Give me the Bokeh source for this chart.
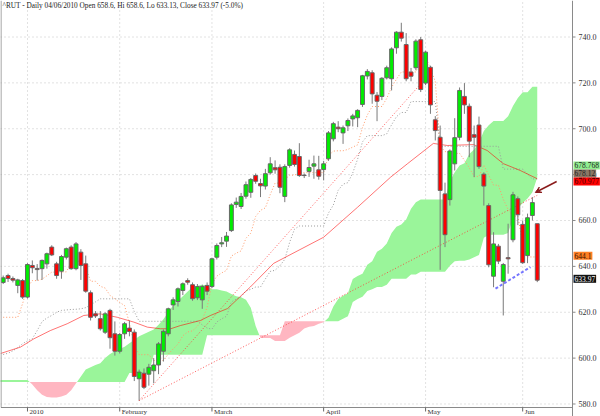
import numpy as np
from bokeh.plotting import figure
from bokeh.models import ColumnDataSource, Range1d, Label, Arrow, VeeHead
from bokeh.embed import file_html
from bokeh.resources import INLINE

# ---------------- data ----------------
title_text = "^RUT - Daily 04/06/2010 Open 658.6, Hi 658.6, Lo 633.13, Close 633.97 (-5.0%)"

month_labels = ["2010", "February", "March", "April", "May", "Jun"]
month_start_idx = [5, 24, 43, 66, 87, 107]

opens = [633.0, 636.0, 634.7, 631.7, 633.8, 626.6, 640.4, 639.1, 639.0, 641.1,
         648.4, 641.1, 637.9, 644.0, 648.4, 639.0, 646.2, 641.1, 628.5, 619.3,
         617.2, 611.3, 620.8, 610.6, 603.0, 610.6, 613.1, 611.3, 591.0, 593.4,
         593.0, 594.5, 597.0, 603.0, 610.6, 623.2, 624.7, 629.5, 633.8, 632.0,
         626.3, 625.4, 631.7, 631.2, 644.0, 649.8, 651.0, 655.6, 667.0, 666.1,
         670.6, 672.3, 679.6, 676.1, 675.0, 680.8, 683.0, 683.2, 670.5, 684.0,
         688.8, 687.9, 679.8, 681.4, 683.7, 682.1, 682.2, 686.9, 695.6, 700.7,
         698.2, 701.3, 704.3, 704.8, 710.6, 723.0, 724.4, 714.6, 714.1, 722.2,
         721.8, 735.3, 742.1, 736.7, 724.7, 726.6, 738.8, 719.9, 726.8, 703.9,
         696.3, 671.6, 669.1, 684.7, 696.3, 714.1, 709.8, 697.4, 701.6, 680.2,
         666.5, 635.7, 648.8, 633.5, 643.8, 651.6, 669.5, 658.3, 644.7, 662.2,
         658.6]
highs = [636.0, 636.8, 635.6, 634.6, 634.5, 641.4, 642.6, 641.0, 643.0, 646.0,
         649.2, 642.0, 645.0, 648.2, 649.2, 650.6, 647.5, 644.7, 629.5, 620.5,
         620.5, 620.0, 621.5, 616.0, 611.0, 615.8, 616.4, 612.5, 595.0, 595.5,
         597.5, 600.0, 607.0, 612.5, 622.0, 626.5, 630.8, 633.0, 634.8, 633.0,
         632.3, 632.0, 633.0, 643.8, 650.0, 652.8, 655.0, 667.5, 670.0, 672.0,
         677.0, 678.5, 680.5, 678.2, 682.5, 687.6, 686.2, 684.5, 684.5, 691.5,
         690.5, 693.7, 680.5, 686.5, 688.3, 688.2, 686.0, 699.0, 703.0, 703.3,
         701.4, 704.5, 706.5, 708.5, 723.5, 726.0, 725.5, 716.0, 722.5, 727.5,
         735.5, 742.5, 746.2, 741.7, 726.5, 739.0, 740.0, 734.0, 727.5, 705.5,
         701.4, 676.5, 691.0, 704.6, 718.0, 719.9, 711.0, 701.4, 705.3, 681.0,
         667.5, 654.9, 649.8, 641.5, 658.6, 672.5, 670.5, 660.0, 663.0, 670.2,
         658.6]
lows = [632.3, 633.2, 633.0, 628.3, 625.8, 626.0, 637.0, 633.8, 634.1, 639.0,
        644.5, 634.6, 634.6, 643.0, 638.5, 638.3, 634.1, 628.5, 616.4, 617.5,
        612.0, 610.5, 604.1, 601.1, 602.0, 608.4, 609.5, 590.0, 581.5, 586.5,
        588.0, 589.0, 593.0, 598.5, 609.5, 621.0, 622.5, 627.5, 632.0, 625.0,
        625.3, 621.5, 627.5, 630.5, 643.0, 648.4, 648.5, 655.0, 665.5, 665.0,
        669.5, 669.9, 676.0, 670.2, 673.5, 680.0, 680.4, 671.9, 668.0, 683.0,
        683.5, 679.0, 678.5, 679.0, 678.2, 677.8, 677.5, 686.0, 694.5, 698.5,
        693.4, 699.0, 701.0, 700.7, 709.5, 721.5, 710.9, 703.3, 712.5, 721.5,
        716.7, 732.7, 738.0, 720.7, 720.7, 725.5, 716.0, 719.0, 706.5, 694.9,
        638.5, 648.4, 666.5, 681.8, 695.0, 706.5, 687.6, 678.9, 682.5, 666.5,
        639.6, 630.9, 641.0, 618.6, 636.8, 650.5, 658.0, 641.1, 641.4, 660.0,
        633.13]
closes = [635.0, 634.7, 634.0, 634.1, 626.6, 640.8, 639.4, 638.6, 642.6, 645.5,
          645.0, 636.0, 644.3, 647.7, 639.0, 649.8, 640.4, 629.2, 617.8, 618.4,
          612.8, 619.3, 608.9, 603.0, 610.3, 615.0, 611.6, 592.0, 593.9, 587.3,
          596.0, 597.0, 606.2, 611.7, 621.5, 625.4, 630.2, 632.4, 633.1, 625.9,
          631.2, 631.2, 629.2, 643.3, 649.1, 650.3, 653.2, 666.8, 668.0, 670.5,
          675.6, 677.9, 677.1, 675.1, 680.4, 684.7, 682.1, 674.5, 683.5, 690.8,
          684.4, 679.6, 679.6, 683.1, 684.7, 679.3, 684.7, 698.2, 702.2, 700.0,
          700.4, 703.6, 705.6, 708.0, 723.1, 725.0, 715.2, 712.0, 722.0, 726.6,
          734.8, 742.1, 739.5, 721.8, 722.9, 738.2, 717.1, 733.4, 710.4, 699.2,
          673.1, 653.8, 690.3, 696.1, 716.7, 710.4, 694.6, 696.3, 683.5, 675.0,
          640.7, 649.8, 642.3, 640.8, 643.3, 671.2, 662.5, 641.6, 661.2, 667.8,
          633.97]

# tenkan-sen (orange dotted), one value per candle
tenkan = [617.8, 617.8, 617.8, 617.8, 623.8, 630.9, 633.8, 633.8, 634.4, 635.9,
          637.5, 637.5, 637.5, 637.6, 641.5, 642.2, 642.35, 639.55, 633.5, 633.5,
          631.3, 630.55, 627.35, 625.85, 624.3, 622.9, 615.3, 605.75, 601.5, 601.5,
          601.5, 598.95, 598.95, 598.95, 601.75, 604.0, 606.15, 609.75, 611.4, 611.9,
          613.9, 616.65, 622.15, 632.4, 635.75, 637.15, 638.25, 644.5, 645.75, 646.75,
          652.25, 654.5, 661.75, 664.45, 665.5, 671.3, 676.3, 676.3, 677.8, 679.75,
          679.75, 680.85, 680.85, 680.85, 680.85, 680.85, 680.85, 688.25, 690.25, 690.4,
          690.4, 691.0, 692.0, 693.0, 700.5, 706.0, 709.7, 709.7, 709.7, 713.25,
          718.1, 721.6, 724.75, 724.75, 724.75, 724.75, 729.35, 731.1, 726.35, 720.55,
          692.35, 690.1, 689.25, 689.25, 689.25, 686.25, 683.0, 679.2, 679.2, 684.15,
          679.75, 675.4, 675.4, 669.25, 664.8, 661.95, 661.95, 649.8, 644.1, 644.1,
          644.1]

# kijun-sen (grey dotted), one value per candle
kijun = [601.6, 602.1, 603.2, 604.6, 606.3, 607.5, 608.5, 612.0, 615.9, 617.5,
         618.6, 620.0, 620.8, 621.0, 621.2, 621.3, 621.5, 622.0, 623.2, 624.5,
         625.85, 625.85, 625.85, 625.85, 625.85, 625.85, 625.85, 620.3, 616.05, 616.05,
         616.05, 616.05, 616.05, 616.05, 616.05, 616.05, 616.05, 616.05, 616.05, 616.05,
         616.05, 614.5, 613.1, 612.65, 615.75, 617.15, 618.25, 624.5, 625.75, 626.75,
         629.25, 630.0, 631.0, 631.0, 634.5, 637.8, 638.3, 640.3, 643.05, 650.5,
         656.25, 657.6, 657.6, 657.6, 657.6, 657.6, 657.6, 663.25, 666.75, 673.15,
         675.85, 676.5, 680.75, 686.75, 694.25, 697.0, 697.0, 697.0, 697.0, 697.75,
         701.75, 705.25, 707.1, 707.1, 711.85, 711.85, 711.85, 711.85, 711.85, 711.85,
         692.35, 692.35, 692.35, 692.35, 692.35, 692.35, 692.35, 692.35, 692.35, 692.35,
         692.35, 692.35, 692.35, 682.4, 682.4, 682.4, 682.4, 682.4, 680.15, 678.12,
         678.12]

# senkou spans (cloud), one value per position from index -1 to 110
cloud_first_idx = -1
senkou_a = [590.5, 590.5, 590.5, 590.5, 590.5, 590.5, 590.5,
            588.5, 586.0, 584.0, 583.0, 582.8, 582.8, 583.3, 584.0, 586.0, 589.0,
            592.0, 595.0, 596.0, 597.0, 597.8, 600.0, 601.8, 603.0, 604.0, 605.0,
            606.5, 608.0, 609.5, 610.5, 611.5, 612.5, 614.5, 617.0, 620.0, 623.0,
            625.0, 627.0, 629.0, 631.0, 631.5, 632.0, 631.5, 630.0, 630.0, 629.5,
            629.0, 628.0, 627.0, 626.5, 625.5, 622.0, 614.0, 608.8, 608.8, 608.8,
            607.5, 607.5, 607.5, 608.9, 610.0, 611.1, 612.9, 613.7, 614.0, 615.0,
            615.6, 617.6, 622.5, 625.75, 627.15, 628.25, 634.5, 635.75, 636.75, 640.75,
            642.25, 646.4, 647.7, 650.0, 654.55, 657.3, 658.3, 660.4, 665.1, 668.0,
            669.2, 669.2, 669.2, 669.2, 669.2, 669.2, 677.0, 681.0, 684.0, 685.0,
            689.0, 691.0, 694.0, 699.0, 701.5, 703.35, 703.35, 703.35, 705.5, 709.9,
            713.4, 715.9, 715.9, 718.3, 718.3]
senkou_b = ([589.6] * 27 + [593.5] * 5 + [601.5] * 11 + [610.0] * 16 + [616.05] * 12 +
            [617.15, 618.25, 624.5, 625.75, 626.75, 629.25, 630.0, 631.0, 631.0, 632.0,
             634.55, 634.55, 634.55, 634.55, 636.5, 636.5, 637.6,
             637.6, 637.6, 637.6, 637.6, 637.6,
             640.25, 642.25, 642.4, 642.4, 643.0, 644.0, 645.0, 652.5, 653.75, 653.75,
             653.75, 653.75, 654.5, 661.0, 665.25, 667.6, 669.6, 672.35, 678.768])

# smooth red average line (index, value)
ma_idx = [-0.56, 3.56, 6.3, 9.7, 13.2, 16.6, 20.0, 23.5, 26.9, 29.7, 32.4, 34.5,
          36.5, 40.6, 42.7, 46.2, 50.9, 55.7, 66.0, 73.0, 79.8, 83.3, 88.6, 91.5,
          96.9, 99.7, 103.0, 106.5, 110.0]
ma_val = [602.0, 604.8, 608.4, 612.0, 615.0, 618.6, 619.3, 617.8, 615.7, 613.5,
          612.8, 612.8, 614.2, 616.4, 618.6, 621.6, 631.0, 641.3, 652.7, 665.8,
          678.9, 684.8, 693.6, 692.7, 693.1, 690.5, 684.8, 681.8, 678.2]

# trend lines (red dotted) and support line (blue dashed)
trend1_idx = [28.0, 110.0]
trend1_val = [581.5, 670.977]
trend2_idx = [28.0, 86.6]
trend2_val = [581.5, 721.0]
support_idx = [101.4, 108.6]
support_val = [630.3, 639.7]

arrow_start = (114.0, 677.0)
arrow_end = (109.6, 672.2)

# last-value tags on the right
tag_values = [678.768, 678.12, 670.977, 644.1, 633.97]
tag_texts = ["678.768", "678.12", "670.977", "644.1", "633.97"]

y_ticks = [580, 600, 620, 640, 660, 680, 700, 720, 740]

# ---------------- layout (the whole canvas is the data frame) ----------------
W, H = 600, 416
px_per_idx = 4.855        # pixels per candle
first_candle_px = 2.7     # x of first candle
px_per_point = 2.2937     # pixels per index point
y740_px = 36.5            # y of the 740 level

def px_to_idx(xp):
    return (xp - first_candle_px) / px_per_idx

def px_to_val(yp):
    return 740 - (yp - y740_px) / px_per_point

x0, x_end = px_to_idx(0), px_to_idx(W)
y_top, y_bottom = px_to_val(0), px_to_val(H)
plot_right = px_to_idx(572)       # right border of the price area
plot_bottom = px_to_val(407)      # bottom border of the price area
label_y = px_to_val(411)
tick_low = px_to_val(411)
FONT = "Liberation Serif"
BORDER = "#8a8a8a"
GRID = "#c4c4c4"

p = figure(width=W, height=H, output_backend="svg", toolbar_location=None,
           x_range=Range1d(x0, x_end), y_range=Range1d(y_bottom, y_top),
           x_axis_location=None, y_axis_location=None,
           min_border_left=0, min_border_top=0, min_border_right=0, min_border_bottom=0)
p.background_fill_color = "white"
p.border_fill_color = "white"
p.outline_line_color = None
p.xgrid.visible = False
p.ygrid.visible = False

# grids (dotted), confined to the price area
n_y = len(y_ticks)
p.segment(x0=[x0] * n_y, y0=y_ticks, x1=[plot_right] * n_y, y1=y_ticks,
          line_color=GRID, line_dash="1 3", line_width=1)
n_m = len(month_start_idx)
p.segment(x0=month_start_idx, y0=[plot_bottom] * n_m, x1=month_start_idx, y1=[y_top] * n_m,
          line_color=GRID, line_dash="1 3", line_width=1)

# cloud: split into green (A above B) and pink (B above A) polygons
t_idx = np.arange(cloud_first_idx, cloud_first_idx + len(senkou_a), dtype=float)
A = np.array(senkou_a, dtype=float)
B = np.array(senkou_b, dtype=float)
d = A - B
polys = []
cur = [(t_idx[0], A[0], B[0])]
for k in range(1, len(t_idx)):
    if (d[k - 1] >= 0) != (d[k] >= 0):
        f = d[k - 1] / (d[k - 1] - d[k])
        xc = t_idx[k - 1] + f * (t_idx[k] - t_idx[k - 1])
        yc = A[k - 1] + f * (A[k] - A[k - 1])
        cur.append((xc, yc, yc))
        polys.append((cur, d[k - 1] >= 0))
        cur = [(xc, yc, yc)]
    cur.append((t_idx[k], A[k], B[k]))
polys.append((cur, d[-1] >= 0))
for pts, green in polys:
    xs = [q[0] for q in pts] + [q[0] for q in pts][::-1]
    ys = [q[1] for q in pts] + [q[2] for q in pts][::-1]
    p.patch(xs, ys, fill_color="#9af59a" if green else "#ffb6c1", line_color=None)

# indicator lines
idx = np.arange(len(closes))
p.line(idx, kijun, line_color="#9a9a9a", line_width=1, line_dash="1 2")
p.line(idx, tenkan, line_color="#ff9a6a", line_width=1, line_dash="1 2")
p.line(ma_idx, ma_val, line_color="#ff0000", line_alpha=0.55, line_width=1)
p.line(trend1_idx, trend1_val, line_color="#ff3333", line_alpha=0.8, line_width=1, line_dash="1 2")
p.line(trend2_idx, trend2_val, line_color="#ff3333", line_alpha=0.8, line_width=1, line_dash="1 2")

# candles
o = np.array(opens); c = np.array(closes)
up = c >= o
src = ColumnDataSource(dict(
    x=idx, top=np.maximum(o, c), bottom=np.minimum(o, c),
    high=np.array(highs), low=np.array(lows),
    color=np.where(up, "#00ee00", "#ff0000")))
p.segment("x", "high", "x", "low", source=src, line_color="#7a7a7a", line_width=1)
p.vbar(x="x", top="top", bottom="bottom", width=0.8, source=src,
       fill_color="color", line_color="#666666", line_width=1)

# support line
p.line(support_idx, support_val, line_color="#7777ff", line_width=2, line_dash="3 2")

# arrow
p.add_layout(Arrow(end=VeeHead(size=6, fill_color="#8b1c1c", line_color="#8b1c1c"),
                   x_start=arrow_start[0], y_start=arrow_start[1],
                   x_end=arrow_end[0], y_end=arrow_end[1],
                   line_color="#8b1c1c", line_width=1.5))

# borders of the price area
left_edge = x0 + 0.5 / px_per_idx
p.segment(x0=[left_edge, left_edge, plot_right], y0=[plot_bottom, plot_bottom, y_bottom],
          x1=[left_edge, plot_right, plot_right], y1=[y_top, plot_bottom, y_top],
          line_color=BORDER, line_width=1)

# x axis: tick marks at month starts, labels just right of them
p.segment(x0=month_start_idx, y0=[plot_bottom] * n_m, x1=month_start_idx, y1=[tick_low] * n_m,
          line_color="#666666", line_width=1)
for m, t in zip(month_start_idx, month_labels):
    p.add_layout(Label(x=m, y=label_y, x_offset=2, text=t, text_font=FONT,
                       text_font_size="7px", text_color="#333333",
                       text_align="left", text_baseline="middle"))

# right price scale: tick marks and labels
p.segment(x0=[plot_right] * n_y, y0=y_ticks,
          x1=[plot_right + 3 / px_per_idx] * n_y, y1=y_ticks,
          line_color=BORDER, line_width=1)
for v in y_ticks:
    p.add_layout(Label(x=plot_right, y=v, x_offset=6, text=f"{v:.1f}", text_font=FONT,
                       text_font_size="8px", text_color="#333333", text_baseline="middle"))

# title
p.add_layout(Label(x=x0, y=px_to_val(5), x_offset=2, text=title_text, text_font=FONT,
                   text_font_size="7.3px", text_color="#222222",
                   text_baseline="middle"))

# value tags
tag_bg = ["#90ee90", "#8b7765", "#ff0000", "#ff7f24", "#111111"]
tag_fg = ["#222222", "#222222", "#3a0000", "#331100", "#ffffff"]
tag_shift_px = [12, 5.5, 13.9, 1.2, 1.4]
for v, t, bg, fg, sh in zip(tag_values, tag_texts, tag_bg, tag_fg, tag_shift_px):
    p.add_layout(Label(x=plot_right, y=v, x_offset=1, y_offset=sh, text=t, text_font=FONT,
                       text_font_size="7.5px", text_color=fg,
                       background_fill_color=bg, text_baseline="middle", padding=1))

open("out.html", "w").write(file_html(p, INLINE))
